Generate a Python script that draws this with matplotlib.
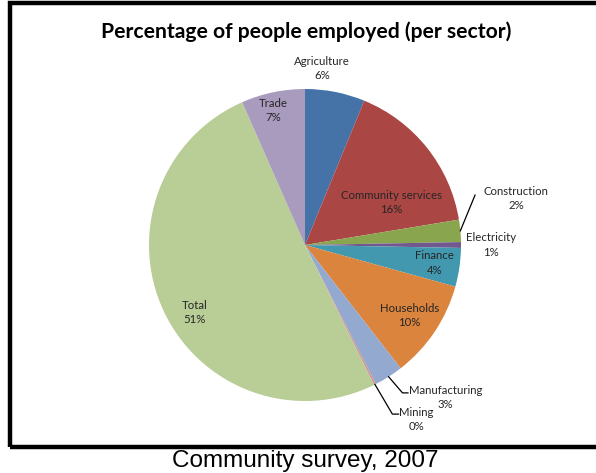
import matplotlib.pyplot as plt
import numpy as np
from matplotlib.patches import Rectangle

sectors = ["Agriculture", "Community services", "Construction", "Electricity", "Finance",
           "Households", "Manufacturing", "Mining", "Total", "Trade"]
shares = [6.2, 16.2, 2.3, 0.6, 4.0, 10.2, 3.0, 0.2, 50.7, 6.6]
colors = ["#4572A7", "#AA4643", "#89A54E", "#71588F", "#4198AF",
          "#DB843D", "#93A9CF", "#D19392", "#B9CD96", "#A99BBD"]

# label placement (pie units, centre at 0,0) and leader elbows for the small slices
label_xy = [(0.11, 1.13), (0.555, 0.27), (1.355, 0.30), (1.19, 0.0), (0.83, -0.115),
            (0.67, -0.45), (0.90, -0.975), (0.715, -1.12), (-0.71, -0.43), (-0.205, 0.86)]
leaders = {2: [(1.09, 0.32)],
           6: [(0.625, -0.948), (0.66, -0.948)],
           7: [(0.56, -1.084), (0.60, -1.084)]}

W, H = 596, 473
fig = plt.figure(figsize=(W / 100, H / 100), dpi=100)

# outer frame
fig.patches.append(Rectangle((10 / W, 1 - 447 / H), 700 / W, (447 - 3.5) / H,
                             transform=fig.transFigure, fill=False,
                             edgecolor="black", linewidth=3.2))

fig.text(306 / W, 1 - 32 / H, "Percentage of people employed (per sector)",
         ha="center", va="center", fontsize=15.2, fontweight="bold", family="Lato")
fig.text(305 / W, 1 - 461 / H, "Community survey, 2007",
         ha="center", va="center", fontsize=17.5, family="Liberation Sans")

r = 156
ax = fig.add_axes([(305 - r) / W, (H - 245 - r) / H, 2 * r / W, 2 * r / H])
wedges, _ = ax.pie(shares, colors=colors, startangle=90, counterclock=False,
                   radius=1, wedgeprops=dict(linewidth=0))
ax.set_xlim(-1, 1)
ax.set_ylim(-1, 1)
ax.set_aspect("equal")
ax.axis("off")

for i, (name, val, w) in enumerate(zip(sectors, shares, wedges)):
    x, y = label_xy[i]
    ax.text(x, y, f"{name}\n{val:.0f}%", ha="center", va="center",
            fontsize=8.2, family="Lato", color="#262626", linespacing=1.35,
            clip_on=False)
    if i in leaders:
        mid = np.deg2rad((w.theta1 + w.theta2) / 2)
        pts = [(np.cos(mid), np.sin(mid))] + leaders[i]
        xs, ys = zip(*pts)
        ax.plot(xs, ys, color="black", linewidth=0.9, clip_on=False)

fig.savefig("out.png", dpi=100)
